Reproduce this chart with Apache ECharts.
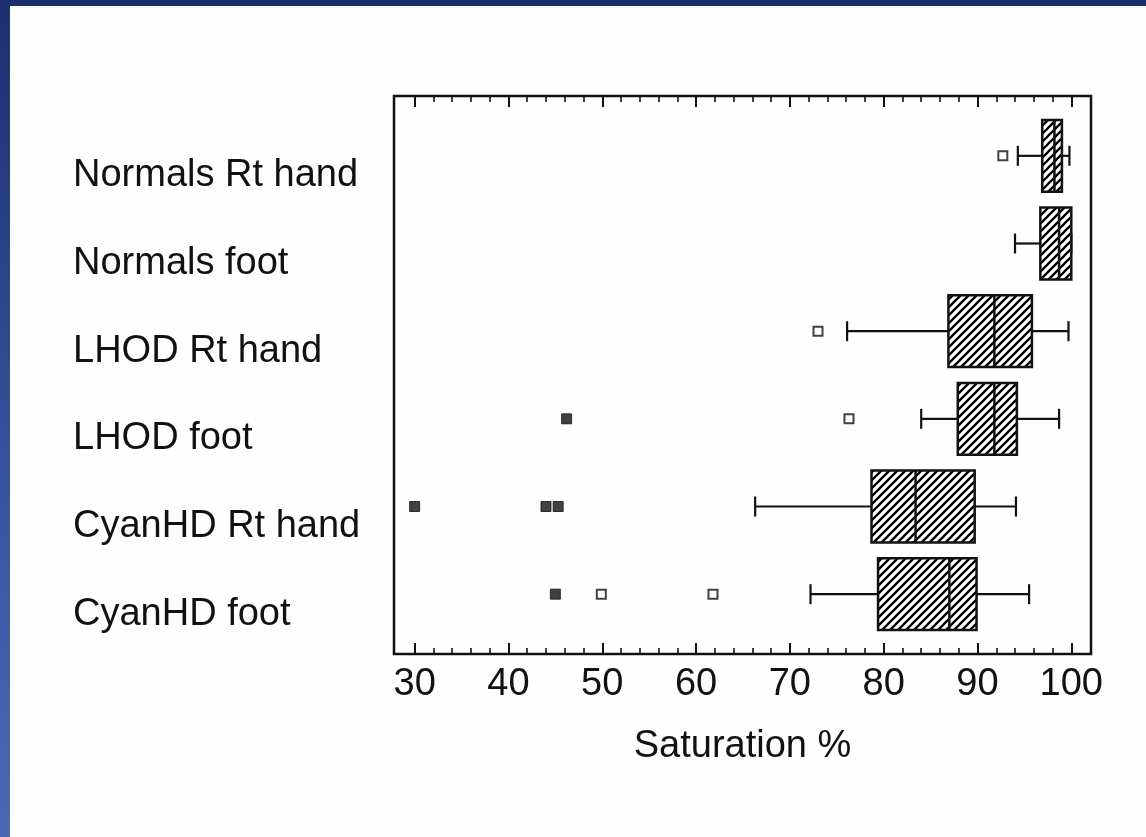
<!DOCTYPE html>
<html>
<head>
<meta charset="utf-8">
<script src="https://cdn.jsdelivr.net/npm/echarts@6/dist/echarts.min.js"></script>
<style>
  html, body { margin: 0; padding: 0; background: #fefefe; }
  #chart { position: absolute; left: 0; top: 0; width: 1146px; height: 837px; }
  #topbar { position: absolute; left: 0; top: 0; width: 1146px; height: 6px; background: #1b2d6c; z-index: 2; }
  #leftbar { position: absolute; left: 0; top: 0; width: 10px; height: 837px; background: linear-gradient(to bottom, #1c2f6e, #3a55a0 60%, #4b69b0); z-index: 2; }
</style>
</head>
<body>
<div id="chart"></div>
<div id="topbar"></div>
<div id="leftbar"></div>
<script>
// ---- data ----
const categories = ['Normals Rt hand', 'Normals foot', 'LHOD Rt hand', 'LHOD foot', 'CyanHD Rt hand', 'CyanHD foot'];
const lowerWhisker = [94.3, 94.0, 76.1, 84.0, 66.3, 72.2];
const q1Values     = [96.9, 96.7, 86.9, 87.9, 78.7, 79.4];
const medianValues = [98.2, 98.7, 91.8, 91.8, 83.4, 87.0];
const q3Values     = [99.0, 100.0, 95.8, 94.2, 89.7, 89.9];
const upperWhisker = [99.8, 100.0, 99.7, 98.7, 94.1, 95.5];
// outliers: [value, category index]
const openOutliers   = [[92.7, 0], [73.0, 2], [76.3, 3], [49.9, 5], [61.8, 5]];
const filledOutliers = [[46.2, 3], [30.0, 4], [44.0, 4], [45.3, 4], [45.0, 5]];
const majorTicks = [30, 40, 50, 60, 70, 80, 90, 100];
const minorTicks = [30, 32, 34, 36, 38, 40, 42, 44, 46, 48, 50, 52, 54, 56, 58, 60, 62, 64, 66, 68, 70, 72, 74, 76, 78, 80, 82, 84, 86, 88, 90, 92, 94, 96, 98, 100];
const xMin = 27.8, xMax = 102.1;

// ---- hatch pattern ----
const pat = document.createElement('canvas');
pat.width = 8; pat.height = 8;
const pc = pat.getContext('2d');
pc.fillStyle = '#ffffff'; pc.fillRect(0, 0, 8, 8);
pc.strokeStyle = '#000000'; pc.lineWidth = 2.3;
pc.beginPath();
pc.moveTo(-1, 9); pc.lineTo(9, -1);
pc.moveTo(-3, 3); pc.lineTo(3, -3);
pc.moveTo(5, 11); pc.lineTo(11, 5);
pc.stroke();
const hatch = { image: pat, repeat: 'repeat' };

const boxData = categories.map((c, i) => [i, lowerWhisker[i], q1Values[i], medianValues[i], q3Values[i], upperWhisker[i]]);

const FONT = '"Liberation Sans", Arial, Helvetica, sans-serif';
const GL = 394, GR = 55;

const chart = echarts.init(document.getElementById('chart'), null, { renderer: 'canvas' });

function tickAxis(pos, values, len, width, labels) {
  return {
    type: 'value', gridIndex: 0, position: pos, min: xMin, max: xMax,
    axisLine: { show: false, onZero: false },
    splitLine: { show: false },
    axisTick: { show: true, inside: true, length: len, customValues: values, lineStyle: { color: '#111', width: width } },
    axisLabel: labels ? { show: true, customValues: majorTicks, fontSize: 38, color: '#111', fontFamily: FONT, margin: 12 } : { show: false }
  };
}

const bottomMajor = tickAxis('bottom', majorTicks, 11, 2, true);
bottomMajor.name = 'Saturation %';
bottomMajor.nameLocation = 'middle';
bottomMajor.nameGap = 74;
bottomMajor.nameTextStyle = { fontSize: 38, color: '#111', fontFamily: FONT };

chart.setOption({
  backgroundColor: '#fefefe',
  animation: false,
  grid: [
    { left: GL, right: GR, top: 96, bottom: 183, show: true, borderColor: '#111', borderWidth: 2.5, backgroundColor: 'transparent' },
    { left: GL, right: GR, top: 112, bottom: 199 }
  ],
  xAxis: [
    bottomMajor,
    tickAxis('bottom', minorTicks, 6, 1.6, false),
    tickAxis('top', majorTicks, 11, 2, false),
    tickAxis('top', minorTicks, 6, 1.6, false),
    { type: 'value', gridIndex: 1, min: xMin, max: xMax, show: false }
  ],
  yAxis: [
    { type: 'value', gridIndex: 0, min: 0, max: 1, show: false },
    {
      type: 'category', gridIndex: 1, data: categories, inverse: true,
      axisLine: { show: false }, axisTick: { show: false }, splitLine: { show: false },
      axisLabel: { show: true, align: 'left', verticalAlign: 'top', lineHeight: 40, margin: 321, fontSize: 38, color: '#111', fontFamily: FONT }
    }
  ],
  series: [
    {
      type: 'custom', xAxisIndex: 4, yAxisIndex: 1,
      encode: { x: [1, 2, 3, 4, 5], y: 0 },
      data: boxData,
      renderItem: function (params, api) {
        const cat = api.value(0);
        const pLo = api.coord([api.value(1), cat]);
        const pQ1 = api.coord([api.value(2), cat]);
        const pMed = api.coord([api.value(3), cat]);
        const pQ3 = api.coord([api.value(4), cat]);
        const pHi = api.coord([api.value(5), cat]);
        const band = api.size([0, 1])[1];
        const bh = band * 0.82;
        const cy = pQ1[1];
        const capH = 20;
        const ls = { stroke: '#111', lineWidth: 2.2 };
        return {
          type: 'group',
          children: [
            { type: 'line', shape: { x1: pLo[0], y1: cy, x2: pQ1[0], y2: cy }, style: ls },
            { type: 'line', shape: { x1: pQ3[0], y1: cy, x2: pHi[0], y2: cy }, style: ls },
            { type: 'line', shape: { x1: pLo[0], y1: cy - capH / 2, x2: pLo[0], y2: cy + capH / 2 }, style: ls },
            { type: 'line', shape: { x1: pHi[0], y1: cy - capH / 2, x2: pHi[0], y2: cy + capH / 2 }, style: ls },
            { type: 'rect', shape: { x: pQ1[0], y: cy - bh / 2, width: pQ3[0] - pQ1[0], height: bh }, style: { fill: hatch, stroke: '#111', lineWidth: 2.5 } },
            { type: 'line', shape: { x1: pMed[0], y1: cy - bh / 2, x2: pMed[0], y2: cy + bh / 2 }, style: { stroke: '#111', lineWidth: 2.5 } }
          ]
        };
      }
    },
    {
      type: 'scatter', xAxisIndex: 4, yAxisIndex: 1,
      symbol: 'rect', symbolSize: 9,
      itemStyle: { color: '#ffffff', borderColor: '#111', borderWidth: 2 },
      data: openOutliers
    },
    {
      type: 'scatter', xAxisIndex: 4, yAxisIndex: 1,
      symbol: 'rect', symbolSize: 10,
      itemStyle: { color: '#111', borderColor: '#111', borderWidth: 1 },
      data: filledOutliers
    }
  ]
});
</script>
</body>
</html>
